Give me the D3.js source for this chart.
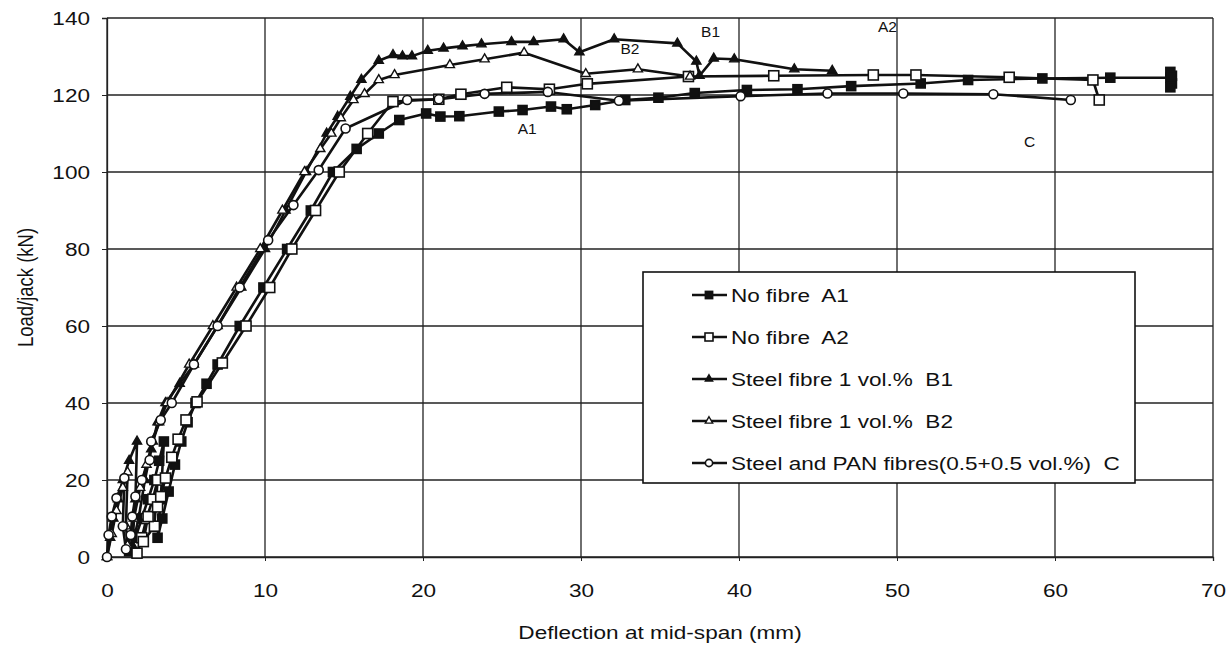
<!DOCTYPE html>
<html><head><meta charset="utf-8">
<script src="https://cdn.jsdelivr.net/npm/d3@7"></script>
<style>
body{margin:0;background:#fff;}
text{font-family:"Liberation Sans",Arial,sans-serif;fill:#111;}
</style></head>
<body><svg id="c" width="1232" height="645"></svg>
<script>
// ---- data ----
const xTicks = [0,10,20,30,40,50,60,70];
const yTicks = [0,20,40,60,80,100,120,140];
const seriesNames = ["No fibre  A1","No fibre  A2","Steel fibre 1 vol.%  B1","Steel fibre 1 vol.%  B2","Steel and PAN fibres(0.5+0.5 vol.%)  C"];
const A1 = [[1.4,1.5],[1.8,5],[2.2,10],[2.6,15],[3.0,20],[3.3,25],[3.6,30],[3.4,15],[3.2,5],[3.5,10],[3.9,17],[4.3,24],[4.7,30],[5.1,35],[5.6,40],[6.3,45],[7.0,50],[8.4,60],[9.9,70],[11.4,80],[12.9,90],[14.3,100],[15.8,106],[17.2,110],[18.5,113.5],[20.2,115.2],[21.1,114.4],[22.3,114.5],[24.8,115.7],[26.3,116.1],[28.1,117],[29.1,116.3],[30.9,117.4],[32.8,118.7],[34.9,119.3],[37.2,120.5],[40.5,121.3],[43.7,121.5],[47.1,122.3],[51.5,123],[54.5,123.9],[59.2,124.3],[63.5,124.5],[67.3,124.5],[67.3,126],[67.4,123],[67.3,122],[67.4,125]];
const A2 = [[1.9,1],[2.2,5],[2.5,10],[2.9,15],[3.2,20],[3.0,8],[2.3,4],[2.6,10.5],[3.2,13],[3.4,15.7],[3.7,20.5],[4.1,25.9],[4.5,30.6],[5.0,35.6],[5.7,40.3],[7.3,50.4],[8.8,60],[10.3,70],[11.7,80],[13.2,90],[14.7,100],[16.5,110],[18.1,118.3],[21.0,118.9],[22.4,120.2],[25.3,122],[28.0,121.5],[30.4,122.9],[36.8,124.8],[42.2,125],[48.5,125.2],[51.2,125.2],[57.1,124.6],[62.4,123.9],[62.8,118.7]];
const B1 = [[0,0],[0.2,5],[0.4,10],[0.7,15],[1.0,20],[1.4,25],[1.9,30],[1.8,15],[1.6,3],[2.0,10],[2.4,20],[2.8,28],[3.2,35],[3.7,40],[4.6,45],[5.5,50],[7.0,60],[8.5,70],[10.0,80],[11.3,90],[12.6,100],[13.9,110],[14.6,114.4],[15.4,119.6],[16.1,124],[17.2,128.9],[18.1,130.4],[18.7,130.1],[19.3,130.1],[20.3,131.5],[21.3,132.1],[22.5,132.7],[23.7,133.2],[25.6,133.8],[27.0,133.8],[28.9,134.5],[29.9,131.1],[32.1,134.5],[36.1,133.4],[37.3,128.7],[37.5,125],[38.4,129.5],[39.7,129.3],[43.5,126.7],[45.9,126.3]];
const B2 = [[0,0],[0.3,6],[0.6,12],[1.0,18],[1.3,22],[1.2,8],[1.3,3],[1.7,10],[2.1,18],[2.5,24],[2.9,30],[3.3,35],[3.8,40],[5.2,50],[6.7,60],[8.2,70],[9.7,80],[11.1,90],[12.5,100],[13.5,106],[14.2,110],[14.8,114],[15.6,118.7],[16.3,120.3],[17.2,123.9],[18.2,125.2],[21.7,127.8],[23.9,129.3],[26.4,131],[30.3,125.5],[33.6,126.7],[36.9,124.8]];
const C = [[0,0],[0.1,5.7],[0.3,10.5],[0.6,15.3],[1.1,20.5],[1.0,8],[1.2,2],[1.5,5.7],[1.6,10.5],[1.8,15.7],[2.2,20],[2.7,25.2],[2.8,30],[3.4,35.6],[4.1,40],[5.5,50],[7.0,60],[8.4,70],[10.2,82.3],[11.8,91.4],[13.4,100.5],[15.1,111.3],[19.0,118.7],[21.0,118.9],[23.9,120.3],[27.9,120.8],[32.4,118.5],[40.1,119.7],[45.6,120.4],[50.4,120.4],[56.1,120.2],[61.0,118.7]];
const curveLabels = [["A1",26.6,111.4],["A2",49.4,137.7],["B1",38.2,136.4],["B2",33.1,132.2],["C",58.4,108]];

// ---- layout ----
const svg = d3.select("#c");
const x = d3.scaleLinear().domain([0,70]).range([107,1213]);
const y = d3.scaleLinear().domain([0,140]).range([557,18]);
const gridColor = "#222";
const FS = 18.5, SX = 1.22; // font size and horizontal stretch of the scanned figure

// grid
svg.append("g").selectAll("line").data(xTicks).join("line")
  .attr("x1",d=>x(d)).attr("x2",d=>x(d)).attr("y1",y(0)).attr("y2",y(140))
  .attr("stroke",gridColor).attr("stroke-width",1.3);
svg.append("g").selectAll("line").data(yTicks).join("line")
  .attr("x1",x(0)).attr("x2",x(70)).attr("y1",d=>y(d)).attr("y2",d=>y(d))
  .attr("stroke",gridColor).attr("stroke-width",1.3);

// axes
const xAxis = svg.append("g").attr("transform",`translate(0,${y(0)})`)
  .call(d3.axisBottom(x).tickValues(xTicks).tickSize(4).tickPadding(0).tickFormat(d3.format("d")));
const yAxis = svg.append("g").attr("transform",`translate(${x(0)},0)`)
  .call(d3.axisLeft(y).tickValues(yTicks).tickSize(5).tickPadding(0).tickFormat(d3.format("d")));
[xAxis,yAxis].forEach(a=>{
  a.select(".domain").attr("stroke",gridColor).attr("stroke-width",1.3);
  a.selectAll(".tick line").attr("stroke",gridColor);
  a.selectAll("text").style("font-family","'Liberation Sans',Arial,sans-serif")
    .style("font-size",FS+"px").attr("fill","#111").attr("x",0).attr("y",0).attr("dy",null);
});
xAxis.selectAll(".tick text").attr("transform",`translate(0,40) scale(${SX},1)`);
yAxis.selectAll(".tick text").attr("transform",`translate(-17,6.5) scale(${SX},1)`);

svg.append("text").attr("transform",`translate(33,${(y(0)+y(140))/2}) scale(${SX},1) rotate(-90)`)
  .attr("text-anchor","middle").style("font-size",FS+"px").text("Load/jack (kN)");
svg.append("text").attr("transform",`translate(${(x(0)+x(70))/2},639) scale(${SX},1)`)
  .attr("text-anchor","middle").style("font-size",FS+"px").text("Deflection at mid-span (mm)");

// series
const series = [
  {data:A1, shape:"sq", fill:"#111", size:9},
  {data:A2, shape:"sq", fill:"#fff", size:10},
  {data:B1, shape:"tri", fill:"#111", size:9},
  {data:B2, shape:"tri", fill:"#fff", size:9},
  {data:C, shape:"circ", fill:"#fff", size:9}
];
const line = d3.line().x(d=>x(d[0])).y(d=>y(d[1]));
function drawMarker(g, shape, fill, s){
  if(shape==="sq") g.append("rect").attr("x",-s/2).attr("y",-s/2).attr("width",s).attr("height",s)
      .attr("fill",fill).attr("stroke","#111").attr("stroke-width",1.6);
  else if(shape==="tri") g.append("path").attr("d",d3.symbol(d3.symbolTriangle, s*s*0.45)())
      .attr("fill",fill).attr("stroke","#111").attr("stroke-width",1.4);
  else g.append("circle").attr("r",s/2).attr("fill",fill).attr("stroke","#111").attr("stroke-width",1.6);
}
series.forEach(s=>{
  svg.append("path").datum(s.data).attr("d",line).attr("fill","none")
    .attr("stroke","#111").attr("stroke-width",2.6).attr("stroke-linejoin","round");
});
series.forEach(s=>{
  s.data.forEach(d=>{
    const g = svg.append("g").attr("transform",`translate(${x(d[0])},${y(d[1])})`);
    drawMarker(g, s.shape, s.fill, s.size);
  });
});

// curve labels
svg.append("g").selectAll("text").data(curveLabels).join("text")
  .attr("x",d=>x(d[1])).attr("y",d=>y(d[2])).attr("dy","0.36em").attr("text-anchor","middle")
  .style("font-size","15.5px").text(d=>d[0]);

// legend
const lg = svg.append("g");
lg.append("rect").attr("x",643).attr("y",272).attr("width",492).attr("height",211)
  .attr("fill","#fff").attr("stroke","#111").attr("stroke-width",1.6);
seriesNames.forEach((n,i)=>{
  const yy = 295 + i*42;
  lg.append("line").attr("x1",692).attr("x2",727).attr("y1",yy).attr("y2",yy)
    .attr("stroke","#111").attr("stroke-width",2.6);
  const g = lg.append("g").attr("transform",`translate(709,${yy})`);
  drawMarker(g, series[i].shape, series[i].fill, series[i].size*0.8);
  lg.append("text").attr("transform",`translate(731,${yy+6.5}) scale(${SX},1)`)
    .style("font-size",FS+"px").attr("xml:space","preserve").style("white-space","pre").text(n);
});
</script></body></html>
